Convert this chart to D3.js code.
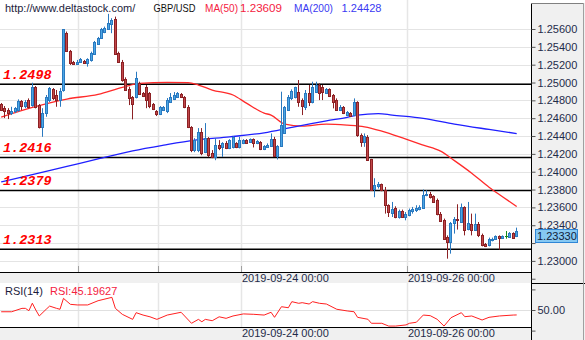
<!DOCTYPE html>
<html><head><meta charset="utf-8">
<script src="https://cdn.jsdelivr.net/npm/d3@7"></script>
<style>
body{margin:0;background:#fff;}
svg{display:block;font-family:"Liberation Sans",Arial,sans-serif;}
</style>
</head><body>
<svg id="c" width="585" height="340"></svg>
<script>
// ---------- DATA (H1 candles GBP/USD) ----------
const opens = [1.24755,1.24710,1.24691,1.24654,1.24680,1.24691,1.24792,1.24736,1.24803,1.24747,
1.24946,1.24747,1.24497,1.24654,1.24803,1.24923,1.24860,1.24803,1.24916,1.25560,
1.25357,1.25234,1.25208,1.25230,1.25245,1.25216,1.25253,1.25320,1.25433,1.25503,
1.25571,1.25598,1.25657,1.25710,1.25328,1.25234,1.25036,1.24923,1.24840,1.24840,
1.24998,1.24879,1.24953,1.24879,1.24758,1.24680,1.24643,1.24691,1.24680,1.24784,
1.24811,1.24840,1.24871,1.24840,1.24728,1.24503,1.24242,1.24242,1.24447,1.24222,
1.24373,1.24211,1.24166,1.24298,1.24279,1.24323,1.24261,1.24279,1.24317,1.24279,
1.24317,1.24354,1.24335,1.24362,1.24317,1.24335,1.24249,1.24279,1.24286,1.24362,
1.24174,1.24286,1.24429,1.24691,1.24822,1.24840,1.24897,1.24803,1.24728,1.24879,
1.24784,1.24897,1.24972,1.24946,1.24885,1.24923,1.24860,1.24803,1.24691,1.24728,
1.24635,1.24661,1.24635,1.24784,1.24410,1.24335,1.24391,1.24137,1.23811,1.23837,
1.23860,1.23800,1.23624,1.23537,1.23593,1.23492,1.23560,1.23492,1.23511,1.23560,
1.23575,1.23587,1.23598,1.23736,1.23755,1.23725,1.23680,1.23530,1.23463,1.23267,
1.23211,1.23425,1.23474,1.23436,1.23605,1.23362,1.23418,1.23343,1.23418,1.23286,
1.23193,1.23174,1.23230,1.23249,1.23275,1.23261,1.23278,1.23267,1.23312,1.23275];
const highs = [1.24770,1.24736,1.24712,1.24728,1.24725,1.24811,1.24803,1.24803,1.24822,1.24998,
1.24961,1.24758,1.24712,1.24860,1.24949,1.24938,1.24916,1.24938,1.25598,1.25571,
1.25365,1.25242,1.25253,1.25275,1.25253,1.25272,1.25346,1.25466,1.25511,1.25612,
1.25627,1.25770,1.25721,1.25739,1.25346,1.25253,1.25058,1.24953,1.24848,1.25121,
1.25009,1.24893,1.24972,1.24893,1.24770,1.24691,1.24736,1.24736,1.24826,1.24882,
1.24893,1.24893,1.24882,1.24848,1.24747,1.24511,1.24376,1.24489,1.24489,1.24545,
1.24388,1.24242,1.24376,1.24354,1.24331,1.24343,1.24365,1.24399,1.24331,1.24391,
1.24365,1.24365,1.24373,1.24373,1.24354,1.24343,1.24298,1.24317,1.24429,1.24391,
1.24298,1.24897,1.24736,1.24860,1.24923,1.24953,1.25028,1.24822,1.24916,1.24972,
1.25009,1.25009,1.24991,1.24972,1.24938,1.24935,1.24871,1.24822,1.24747,1.24736,
1.24680,1.24669,1.24822,1.24790,1.24429,1.24429,1.24410,1.24144,1.23927,1.23885,
1.23867,1.23829,1.23635,1.23661,1.23612,1.23575,1.23575,1.23548,1.23587,1.23605,
1.23624,1.23624,1.23800,1.23792,1.23773,1.23736,1.23699,1.23548,1.23474,1.23286,
1.23436,1.23492,1.23635,1.23643,1.23612,1.23661,1.23530,1.23530,1.23436,1.23306,
1.23200,1.23261,1.23261,1.23286,1.23286,1.23286,1.23335,1.23323,1.23320,1.23373];
const lows = [1.24680,1.24601,1.24590,1.24635,1.24657,1.24672,1.24691,1.24712,1.24710,1.24728,
1.24710,1.24485,1.24391,1.24616,1.24781,1.24803,1.24728,1.24728,1.24897,1.25346,
1.25197,1.25197,1.25197,1.25219,1.25219,1.25178,1.25234,1.25309,1.25421,1.25500,
1.25553,1.25590,1.25553,1.25309,1.25222,1.25009,1.24908,1.24747,1.24587,1.24822,
1.24860,1.24837,1.24712,1.24712,1.24691,1.24624,1.24635,1.24680,1.24657,1.24770,
1.24803,1.24837,1.24826,1.24712,1.24489,1.24219,1.24219,1.24219,1.24185,1.24208,
1.24163,1.24152,1.24129,1.24242,1.24166,1.24253,1.24253,1.24261,1.24264,1.24261,
1.24309,1.24317,1.24323,1.24272,1.24309,1.24242,1.24242,1.24272,1.24279,1.24166,
1.24137,1.24279,1.24429,1.24683,1.24803,1.24822,1.24728,1.24635,1.24691,1.24736,
1.24766,1.24885,1.24803,1.24803,1.24871,1.24837,1.24710,1.24683,1.24680,1.24646,
1.24624,1.24616,1.24624,1.24391,1.24279,1.24279,1.24121,1.23792,1.23714,1.23811,
1.23781,1.23530,1.23492,1.23492,1.23478,1.23474,1.23485,1.23455,1.23500,1.23530,
1.23548,1.23567,1.23587,1.23725,1.23699,1.23650,1.23511,1.23436,1.23238,1.23025,
1.23081,1.23306,1.23351,1.23425,1.23286,1.23343,1.23286,1.23335,1.23267,1.23163,
1.23155,1.23163,1.23219,1.23238,1.23126,1.23249,1.23249,1.23261,1.23253,1.23267];
const closes = [1.24691,1.24680,1.24661,1.24683,1.24710,1.24792,1.24736,1.24784,1.24728,1.24946,
1.24728,1.24497,1.24654,1.24840,1.24935,1.24822,1.24803,1.24904,1.25598,1.25357,
1.25216,1.25208,1.25234,1.25264,1.25222,1.25261,1.25328,1.25452,1.25503,1.25598,
1.25609,1.25665,1.25702,1.25317,1.25234,1.25028,1.24916,1.24829,1.24755,1.25047,
1.24871,1.24848,1.24803,1.24736,1.24699,1.24643,1.24721,1.24721,1.24803,1.24840,
1.24860,1.24879,1.24834,1.24721,1.24497,1.24242,1.24354,1.24447,1.24211,1.24373,
1.24185,1.24160,1.24298,1.24261,1.24323,1.24261,1.24354,1.24384,1.24272,1.24354,
1.24354,1.24323,1.24362,1.24323,1.24346,1.24249,1.24286,1.24298,1.24362,1.24174,
1.24286,1.24522,1.24728,1.24840,1.24908,1.24946,1.24784,1.24736,1.24885,1.24784,
1.24946,1.24972,1.24885,1.24897,1.24923,1.24848,1.24784,1.24691,1.24728,1.24654,
1.24672,1.24624,1.24784,1.24410,1.24335,1.24399,1.24129,1.23800,1.23848,1.23867,
1.23792,1.23624,1.23548,1.23587,1.23492,1.23560,1.23492,1.23530,1.23575,1.23587,
1.23598,1.23605,1.23736,1.23755,1.23717,1.23661,1.23522,1.23447,1.23249,1.23211,
1.23425,1.23474,1.23455,1.23605,1.23343,1.23425,1.23343,1.23418,1.23286,1.23174,
1.23163,1.23249,1.23249,1.23275,1.23261,1.23275,1.23278,1.23312,1.23261,1.23330];

const ma50Idx = [0,9,19,28,35,40,48,54,57,61,67,71,76,78,82,87,94,100,105,110,117,122,127,131,136,141,145,149];
const ma50Val = [1.24612,1.24721,1.24815,1.24867,1.24946,1.24991,1.25002,1.24998,1.24972,1.24916,1.24860,1.24766,1.24657,1.24635,1.24534,1.24511,1.24534,1.24522,1.24503,1.24455,1.24365,1.24298,1.24230,1.24124,1.23983,1.23826,1.23717,1.23609];
const ma200Idx = [0,9,19,28,38,47,56,66,76,84,90,94,100,103,109,113,122,131,141,149];
const ma200Val = [1.23885,1.23968,1.24060,1.24143,1.24234,1.24298,1.24354,1.24391,1.24436,1.24497,1.24542,1.24571,1.24609,1.24635,1.24652,1.24635,1.24598,1.24534,1.24474,1.24428];

const rsiIdx = [0,3,6,7,8,9,10,11,13,14,16,17,18,20,22,25,28,32,33,35,38,39,41,43,45,48,52,55,57,58,59,61,63,65,67,70,73,76,78,79,81,83,84,86,87,89,90,92,94,97,100,102,103,106,107,110,112,114,117,118,120,122,124,126,128,130,133,134,136,139,141,144,148,149];
const rsiVal = [48.3,48.3,51.6,51.6,49.3,56.6,50.0,44.2,50.7,53.8,51.6,50.7,61.3,55.5,54.9,54.9,59.0,62.3,51.6,45.8,40.9,47.4,45.1,43.4,40.9,45.1,47.8,37.1,40.9,38.6,40.9,39.6,43.4,41.9,44.2,46.2,45.8,45.1,47.8,42.9,53.2,52.2,58.1,56.5,57.1,55.8,58.1,56.5,55.8,50.7,49.1,48.3,42.9,41.0,37.1,37.1,34.4,34.4,35.5,37.1,38.1,45.1,44.5,41.0,34.4,42.5,47.4,43.5,44.2,40.3,42.9,44.2,45.1,45.2];

const levels = [1.2498, 1.2416, 1.2379, 1.2313];
const levelLabels = ["1.2498", "1.2416", "1.2379", "1.2313"];
const yTicks = [1.256,1.254,1.252,1.250,1.248,1.246,1.244,1.242,1.240,1.238,1.236,1.234,1.232,1.230,1.228];
const rsiTicks = [30, 50, 70];
const xGridIdx = [22, 45, 69, 117];
const xTickIdx = [69, 117];
const xTickLabels = ["2019-09-24 00:00", "2019-09-26 00:00"];
const symbol = "GBP/USD";
const ma50Last = "1.23609", ma200Last = "1.24428", rsiLast = "45.19627";
const lastPrice = "1.23330";

// ---------- LAYOUT ----------
const svg = d3.select("#c");
const plotR = 531, mainB = 272, rsiT = 283, rsiB = 327;
const n = opens.length;
const x = d3.scaleLinear().domain([0, n - 1]).range([1.2, 516.7]);
const y = d3.scaleLinear().domain([1.2313, 1.2498]).range([249.3, 84.3]);
const ry = d3.scaleLinear().domain([30, 70]).range([330.6, 289.4]);

const defs = svg.append("defs");
defs.append("clipPath").attr("id","cm").append("rect").attr("x",0).attr("y",0).attr("width",plotR).attr("height",mainB);
defs.append("clipPath").attr("id","cr").append("rect").attr("x",0).attr("y",rsiT).attr("width",plotR).attr("height",rsiB-rsiT);

svg.append("rect").attr("width",585).attr("height",340).attr("fill","#fff");
svg.append("rect").attr("x",plotR).attr("y",3).attr("width",585-plotR).attr("height",337).attr("fill","#f0f0f0");
svg.append("rect").attr("x",0).attr("y",mainB).attr("width",plotR).attr("height",rsiT-mainB).attr("fill","#f0f0f0");
svg.append("rect").attr("x",0).attr("y",rsiB).attr("width",plotR).attr("height",340-rsiB).attr("fill","#f0f0f0");

const gm = svg.append("g").attr("clip-path","url(#cm)");
const gr = svg.append("g").attr("clip-path","url(#cr)");

// grid main
gm.selectAll(".hg").data(yTicks).join("line")
  .attr("x1",0).attr("x2",plotR)
  .attr("y1",d=>Math.round(y(d))+0.5).attr("y2",d=>Math.round(y(d))+0.5)
  .attr("stroke","#e4e4e4").attr("stroke-width",1.2);
gm.selectAll(".vg").data(xGridIdx).join("line")
  .attr("x1",d=>Math.round(x(d)+0.7)+0.5).attr("x2",d=>Math.round(x(d)+0.7)+0.5)
  .attr("y1",0).attr("y2",mainB)
  .attr("stroke","#e6e6e6").attr("stroke-width",1.5);
gm.selectAll(".vt").data(xGridIdx).join("line")
  .attr("x1",d=>Math.round(x(d)+0.7)+0.5).attr("x2",d=>Math.round(x(d)+0.7)+0.5)
  .attr("y1",mainB-6).attr("y2",mainB)
  .attr("stroke","#a0a0a0").attr("stroke-width",1);
gr.selectAll(".rvg").data(xGridIdx).join("line")
  .attr("x1",d=>Math.round(x(d)+0.7)+0.5).attr("x2",d=>Math.round(x(d)+0.7)+0.5)
  .attr("y1",rsiT).attr("y2",rsiB)
  .attr("stroke","#e6e6e6").attr("stroke-width",1.5);
gr.append("line").attr("x1",0).attr("x2",plotR)
  .attr("y1",Math.round(ry(50))+0.5).attr("y2",Math.round(ry(50))+0.5)
  .attr("stroke","#e0e0e0").attr("stroke-width",1.2);

// levels
gm.selectAll(".lv").data(levels).join("line")
  .attr("x1",0).attr("x2",plotR)
  .attr("y1",d=>y(d)).attr("y2",d=>y(d))
  .attr("stroke","#000").attr("stroke-width",1.6);

// moving averages
const line = d3.line().x(d=>x(d[0])).y(d=>y(d[1])).curve(d3.curveMonotoneX);
gm.append("path").datum(ma50Idx.map((d,i)=>[d,ma50Val[i]]))
  .attr("d",line).attr("fill","none").attr("stroke","#ff2a2a").attr("stroke-width",1.3);
gm.append("path").datum(ma200Idx.map((d,i)=>[d,ma200Val[i]]))
  .attr("d",line).attr("fill","none").attr("stroke","#1f1fff").attr("stroke-width",1.3);

// candles
const candles = d3.range(n).map(i=>({i, o:opens[i], h:highs[i], l:lows[i], c:closes[i]}));
const col = d => d.c > d.o ? {f:"#4aa6e4", s:"#2a79c0"} : (d.c < d.o ? {f:"#c2474a", s:"#8c2124"} : {f:"#1fa21f", s:"#168a16"});
const px = d => Math.floor(x(d.i)) + 0.5;
const cg = gm.append("g");
cg.selectAll(".wk").data(candles).join("line")
  .attr("x1",px).attr("x2",px)
  .attr("y1",d=>y(d.h)).attr("y2",d=>y(d.l))
  .attr("stroke",d=>col(d).s).attr("stroke-width",1);
cg.selectAll(".bd").data(candles).join("rect")
  .attr("x",d=>px(d)-1).attr("width",2)
  .attr("y",d=>Math.round(y(Math.max(d.o,d.c)))+0.5)
  .attr("height",d=>Math.max(0.01, Math.round(y(Math.min(d.o,d.c))) - Math.round(y(Math.max(d.o,d.c)))))
  .attr("fill",d=>col(d).f).attr("stroke",d=>col(d).s).attr("stroke-width",1);

// level labels
gm.selectAll(".ll").data(levels).join("text")
  .attr("x",3).attr("y",d=>y(d)-5.3)
  .attr("font-family","'Liberation Mono','Courier New',monospace")
  .attr("font-weight","bold").attr("font-style","italic").attr("font-size","13.5px")
  .attr("fill","#ff0000")
  .text((d,i)=>levelLabels[i]);

// RSI line
const rline = d3.line().x(d=>x(d[0])).y(d=>ry(d[1]));
gr.append("path").datum(rsiIdx.map((d,i)=>[d,rsiVal[i]]))
  .attr("d",rline).attr("fill","none").attr("stroke","#ff2020").attr("stroke-width",1);

// frame lines
const fr = svg.append("g").attr("stroke","#000").attr("stroke-width",1);
fr.append("line").attr("x1",0).attr("x2",plotR).attr("y1",mainB+0.5).attr("y2",mainB+0.5);
fr.append("line").attr("x1",0).attr("x2",plotR).attr("y1",rsiB+0.5).attr("y2",rsiB+0.5);
fr.append("line").attr("x1",plotR+0.5).attr("x2",plotR+0.5).attr("y1",3).attr("y2",340);
fr.append("line").attr("x1",plotR).attr("x2",585).attr("y1",rsiT+0.5).attr("y2",rsiT+0.5);
fr.append("line").attr("x1",plotR).attr("x2",584).attr("y1",3.5).attr("y2",3.5).attr("stroke","#808080");
fr.append("line").attr("x1",583.5).attr("x2",583.5).attr("y1",3).attr("y2",340).attr("stroke","#a0a0a0");

// right price axis (label hidden where the last-price box covers it)
const lp = +lastPrice;
const ya = svg.append("g").attr("transform",`translate(${plotR+0.5},0)`)
  .call(d3.axisRight(y).tickValues(yTicks).tickSize(4).tickPadding(2)
    .tickFormat(d => (y(d) < 268 && Math.abs(y(d) - (y(lp) + 5)) > 9) ? d.toFixed(5) : ""));
ya.select(".domain").remove();
ya.selectAll("line").attr("stroke","#555");
ya.selectAll("text").attr("font-family","'Liberation Sans',Arial,sans-serif").attr("font-size","11px").attr("fill","#1f2c4a");

// rsi axis
const ra = svg.append("g").attr("transform",`translate(${plotR+0.5},0)`)
  .call(d3.axisRight(ry).tickValues(rsiTicks).tickSize(4).tickPadding(2)
    .tickFormat(d => d === 50 ? d.toFixed(2) : ""));
ra.select(".domain").remove();
ra.selectAll("line").attr("stroke","#555");
ra.selectAll("text").attr("font-family","'Liberation Sans',Arial,sans-serif").attr("font-size","11px").attr("fill","#1f2c4a");

// last price box
svg.append("rect").attr("x",535.5).attr("y",Math.round(y(lp))-1.5).attr("width",42).attr("height",13)
  .attr("fill","#86c8f2").attr("stroke","#2f86d6").attr("stroke-width",1);
svg.append("text").attr("x",537).attr("y",Math.round(y(lp))+9)
  .attr("font-size","11px").attr("fill","#10203a").text(lastPrice);

// date labels
[mainB + 10, rsiB + 10].forEach(by => {
  svg.append("g").selectAll("text").data(xTickIdx).join("text")
    .attr("x",d=>Math.round(x(d)+0.7)+1).attr("y",by)
    .attr("font-size","11px").attr("fill","#1f2c4a")
    .text((d,i)=>xTickLabels[i]);
});

// header
const hdr = [
  {t:"http://www.deltastock.com/", x:5, c:"#1c1c3c"},
  {t:symbol, x:153.5, c:"#101010", w:42},
  {t:"MA(50)", x:205, c:"#f4223f", w:33},
  {t:ma50Last, x:240, c:"#f4223f", w:42},
  {t:"MA(200)", x:294, c:"#3a3af2", w:39},
  {t:ma200Last, x:341.5, c:"#3a3af2", w:40}
];
const ht = svg.append("g").selectAll("text").data(hdr).join("text")
  .attr("x",d=>d.x).attr("y",12).attr("font-size","11px").attr("fill",d=>d.c).text(d=>d.t);
ht.filter(d=>d.w).attr("textLength",d=>d.w).attr("lengthAdjust","spacingAndGlyphs");
svg.append("text").attr("x",5).attr("y",294.5).attr("font-size","11px").attr("fill","#1c1c3c").text("RSI(14)");
svg.append("text").attr("x",50).attr("y",294.5).attr("font-size","11px").attr("fill","#f4223f").text("RSI:" + rsiLast);
</script>
</body></html>
